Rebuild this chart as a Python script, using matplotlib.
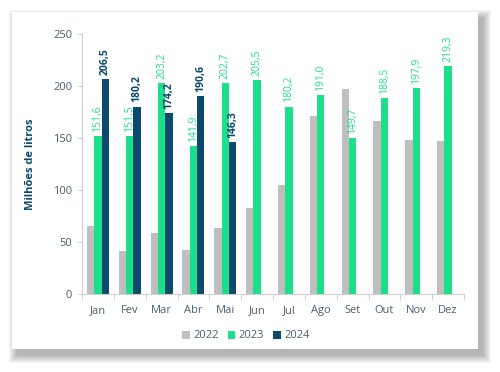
import matplotlib.pyplot as plt
import numpy as np
from matplotlib.patches import Rectangle

plt.rcParams['font.family'] = ['Open Sans', 'DejaVu Sans']

months = ['Jan', 'Fev', 'Mar', 'Abr', 'Mai', 'Jun', 'Jul', 'Ago', 'Set', 'Out', 'Nov', 'Dez']
v2022 = [65.5, 41.8, 59.0, 42.0, 63.5, 83.0, 105.0, 171.5, 196.8, 166.5, 147.8, 147.0]
v2023 = [151.6, 151.5, 203.2, 141.9, 202.7, 205.5, 180.2, 191.0, 149.7, 188.5, 197.9, 219.3]
v2024 = [206.5, 180.2, 174.2, 190.6, 146.3]

c22, c23, c24 = '#bfbfbf', '#1ddf8b', '#0b4a6d'
txt = '#4a6070'

W, H = 500, 372
fig = plt.figure(figsize=(W / 100, H / 100), dpi=100)


def px_rect(x0, y0, x1, y1, **kw):
    # rectangle given in pixel coords (top-left origin)
    return Rectangle((x0 / W, 1 - y1 / H), (x1 - x0) / W, (y1 - y0) / H,
                     transform=fig.transFigure, **kw)


# soft drop shadow behind the card, pushed to the lower right
for i in range(9, 0, -1):
    fig.patches.append(px_rect(12 + 6 - i, 12 + 7 - i, 478 + 4 + i, 349 + 5 + i,
                               facecolor='black', alpha=0.035, edgecolor='none', zorder=0))
fig.patches.append(px_rect(12, 12, 478, 349, facecolor='white', edgecolor='none', zorder=1))

ax = fig.add_axes([82 / W, 1 - 294 / H, 382 / W, 260 / H])
ax.set_zorder(2)
ax.patch.set_alpha(0)

x = np.arange(len(months))
w = 0.23
ax.bar(x - w, v2022, w, color=c22, label='2022')
ax.bar(x, v2023, w, color=c23, label='2023')
ax.bar(x[:len(v2024)] + w, v2024, w, color=c24, label='2024')

for xi, v in zip(x, v2023):
    ax.text(xi, v + 4, f'{v:.1f}'.replace('.', ','), rotation=90, ha='center', va='bottom',
            fontsize=7.5, color=c23)
for xi, v in zip(x[:len(v2024)] + w, v2024):
    ax.text(xi, v + 4, f'{v:.1f}'.replace('.', ','), rotation=90, ha='center', va='bottom',
            fontsize=7.5, color=c24, fontweight='bold')

ax.set_xlim(-0.5, len(months) - 0.5)
ax.set_ylim(0, 250)
ax.set_yticks([0, 50, 100, 150, 200, 250])
ax.set_xticks(x)
ax.set_xticklabels(months)
ax.set_xticks(np.arange(-0.5, len(months), 1), minor=True)
ax.tick_params(axis='x', which='major', length=0, pad=8, labelsize=8, labelcolor=txt)
ax.tick_params(axis='x', which='minor', length=4, color='#cccccc')
ax.tick_params(axis='y', length=3, color='#cccccc', labelsize=8, labelcolor=txt, pad=4)
for s in ['top', 'right']:
    ax.spines[s].set_visible(False)
ax.spines['left'].set_color('#d0d0d0')
ax.spines['bottom'].set_color('#d0d0d0')

ax.set_ylabel('Milhões de litros', fontsize=8, fontweight='bold', color=c24, labelpad=12)

handles, labels = ax.get_legend_handles_labels()
fig.legend(handles, labels, loc='center', bbox_to_anchor=(246 / W, 1 - 336 / H), ncol=3,
           frameon=False, fontsize=8, handlelength=0.7, handleheight=0.7, handletextpad=0.3,
           columnspacing=0.8, labelcolor=txt)

fig.savefig('out.png', dpi=100, facecolor='white')
